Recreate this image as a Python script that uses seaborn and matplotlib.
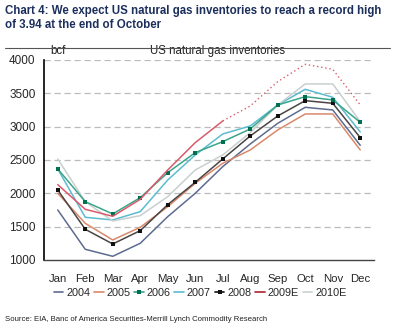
import numpy as np
import pandas as pd
import matplotlib
matplotlib.use("Agg")
import matplotlib.pyplot as plt
import seaborn as sns
from matplotlib.lines import Line2D

months = ["Jan", "Feb", "Mar", "Apr", "May", "Jun", "Jul", "Aug", "Sep", "Oct", "Nov", "Dec"]
s2004 = [1750, 1160, 1055, 1250, 1650, 2000, 2400, 2740, 3050, 3290, 3250, 2720]
s2005 = [2000, 1550, 1300, 1490, 1800, 2150, 2450, 2650, 2950, 3190, 3190, 2650]
s2006 = [2365, 1875, 1690, 1935, 2310, 2610, 2775, 2965, 3325, 3450, 3400, 3065]
s2007 = [2365, 1640, 1600, 1725, 2200, 2575, 2890, 3010, 3325, 3560, 3440, 2920]
s2008 = [2050, 1460, 1240, 1440, 1830, 2165, 2515, 2860, 3160, 3390, 3350, 2835]
s2009_actual = [2130, 1760, 1655, 1910, 2350, 2760, 3085]
s2009_forecast = [3085, 3310, 3675, 3935, 3860, 3325]
s2010 = [2515, 1875, 1585, 1665, 1950, 2350, 2575, 2910, 3325, 3640, 3640, 3075]
yticks = [1000, 1500, 2000, 2500, 3000, 3500, 4000]

sns.set_style("white")
plt.rcParams['font.family'] = ['Liberation Sans', 'DejaVu Sans']

fig = plt.figure(figsize=(4.0, 3.35), dpi=100)
ax = fig.add_axes([0.11, 0.224, 0.825, 0.597])

x = np.arange(len(months))
styles = [
    ("2004", s2004, "#5c6b8f", None, None),
    ("2005", s2005, "#d9896b", None, None),
    ("2007", s2007, "#5bbcd0", None, None),
    ("2010E", s2010, "#c9cfcf", None, None),
    ("2008", s2008, "#4a4444", "s", "#111111"),
    ("2006", s2006, "#3aa58a", "s", "#007050"),
]
for name, vals, col, mk, mcol in styles:
    sns.lineplot(x=x, y=vals, ax=ax, color=col, lw=1.1, marker=mk,
                 markersize=2.6 if mk else 0, markerfacecolor=mcol,
                 markeredgewidth=0, legend=False)
sns.lineplot(x=x[:len(s2009_actual)], y=s2009_actual, ax=ax, color="#d95b6b", lw=1.1, legend=False)
sns.lineplot(x=x[len(s2009_actual) - 1:], y=s2009_forecast, ax=ax, color="#d95b6b", lw=1.0,
             linestyle=(0, (1, 2)), legend=False)

ax.set_xlim(-0.5, 11.5)
ax.set_ylim(1000, 4000)
ax.set_yticks(yticks)
ax.set_yticklabels([str(v) for v in yticks], fontsize=8.5)
ax.set_xticks(x)
ax.set_xticklabels(months, fontsize=8.2)
ax.set_xticks(np.arange(-0.5, 12, 1), minor=True)
ax.tick_params(axis='x', which='major', length=0, pad=10)
ax.tick_params(axis='x', which='minor', length=4, width=1, color="#333333", direction='out')
ax.tick_params(axis='y', length=4, width=1, color="#000000", direction='out', pad=2)
for v in yticks[1:]:
    ax.axhline(v, color="#bbbbbb", lw=0.9, ls=(0, (5, 3)), zorder=0)
for side in ["top", "right"]:
    ax.spines[side].set_visible(False)
ax.spines["left"].set_color("#000000")
ax.spines["left"].set_linewidth(1.2)
ax.spines["bottom"].set_color("#444444")
ax.spines["bottom"].set_linewidth(1.0)
ax.set_xlabel("")
ax.set_ylabel("")

ax.text(0.02, 1.015, "bcf", transform=ax.transAxes, fontsize=8.3, ha="left", va="bottom", color="#222222")
ax.text(0.32, 1.015, "US natural gas inventories", transform=ax.transAxes, fontsize=8.3,
        ha="left", va="bottom", color="#222222")

handles = [
    Line2D([], [], color="#5c6b8f", lw=1.2),
    Line2D([], [], color="#d9896b", lw=1.2),
    Line2D([], [], color="#3aa58a", lw=1.2, marker="s", markersize=2.4, markerfacecolor="#007050", markeredgewidth=0),
    Line2D([], [], color="#5bbcd0", lw=1.2),
    Line2D([], [], color="#111111", lw=1.2, marker="s", markersize=2.4, markerfacecolor="#111111", markeredgewidth=0),
    Line2D([], [], color="#b02030", lw=1.2),
    Line2D([], [], color="#c9cfcf", lw=1.2),
]
labels = ["2004", "2005", "2006", "2007", "2008", "2009E", "2010E"]
fig.legend(handles, labels, loc="center", bbox_to_anchor=(0.5, 0.125), ncol=7, frameon=False,
           fontsize=7.8, handlelength=0.9, handletextpad=0.25, columnspacing=0.35)

fig.text(0.0125, 0.985, "Chart 4: We expect US natural gas inventories to reach a record high\nof 3.94 at the end of October",
         fontsize=8.3, fontweight="bold", color="#1c2e5c", ha="left", va="top", linespacing=1.25)
fig.add_artist(Line2D([0.0125, 0.975], [0.858, 0.858], transform=fig.transFigure, color="#555555", lw=0.8))
fig.text(0.0125, 0.045, "Source: EIA, Banc of America Securities-Merrill Lynch Commodity Research",
         fontsize=5.6, color="#222222", ha="left", va="center")

fig.savefig("out.png", dpi=100, facecolor="white")
